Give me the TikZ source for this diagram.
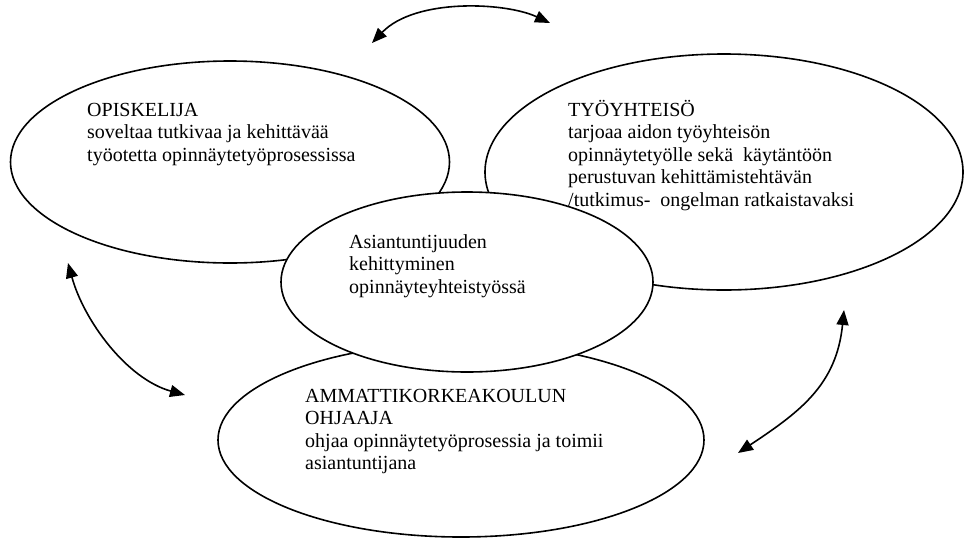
\documentclass[tikz,border=0pt]{standalone}
\usepackage{fontspec}
\setmainfont{Liberation Serif}
\usetikzlibrary{shapes.geometric,arrows.meta}
\begin{document}
\begin{tikzpicture}[x=1pt,y=-1pt,
  bubble/.style={draw=black, line width=1.6pt, ellipse, inner sep=0pt, fill=white},
  txtblock/.style={inner sep=0pt, anchor=base west, font=\fontsize{20}{22.5}\selectfont},
  dblarrow/.style={line width=1.6pt, {Triangle[length=15pt,width=12pt]}-{Triangle[length=15pt,width=12pt]}}]
\useasboundingbox (0,0) rectangle (964,539);
% ellipses
\node[bubble, minimum width=439pt, minimum height=202pt] (opis) at (230,162) {};
\node[bubble, minimum width=478pt, minimum height=236pt] (tyo) at (724,172) {};
\node[bubble, minimum width=486pt, minimum height=194pt] (amk) at (461,440) {};
\node[bubble, minimum width=372pt, minimum height=180pt] (keski) at (467,282) {};
% texts
\node[txtblock] (opistxt) at (87,116) {\vtop{\hbox{OPISKELIJA}\hbox{soveltaa tutkivaa ja kehittävää}\hbox{työotetta opinnäytetyöprosessissa}}};
\node[txtblock] (tyotxt) at (568,116) {\vtop{\hbox{TYÖYHTEISÖ}\hbox{tarjoaa aidon työyhteisön}\hbox{opinnäytetyölle sekä\ \ käytäntöön}\hbox{perustuvan kehittämistehtävän}\hbox{/tutkimus-\ \ ongelman ratkaistavaksi}}};
\node[txtblock] (keskitxt) at (349,248) {\vtop{\hbox{Asiantuntijuuden}\hbox{kehittyminen}\hbox{opinnäyteyhteistyössä}}};
\node[txtblock] (amktxt) at (305,402) {\vtop{\hbox{AMMATTIKORKEAKOULUN}\hbox{OHJAAJA}\hbox{ohjaa opinnäytetyöprosessia ja toimii}\hbox{asiantuntijana}}};
% arrow ends
\coordinate (ta) at (372,43);
\coordinate (tb) at (550,23);
\coordinate (la) at (68,263);
\coordinate (lb) at (185,395);
\coordinate (ra) at (844,310);
\coordinate (rb) at (738,453);
% arrows
\draw[dblarrow] (ta) .. controls (415,-2) and (505,2) .. (tb);
\draw[dblarrow] (la) .. controls (84,321) and (127,379) .. (lb);
\draw[dblarrow] (ra) .. controls (836.5,385) and (800,411.75) .. (rb);
\end{tikzpicture}
\end{document}
